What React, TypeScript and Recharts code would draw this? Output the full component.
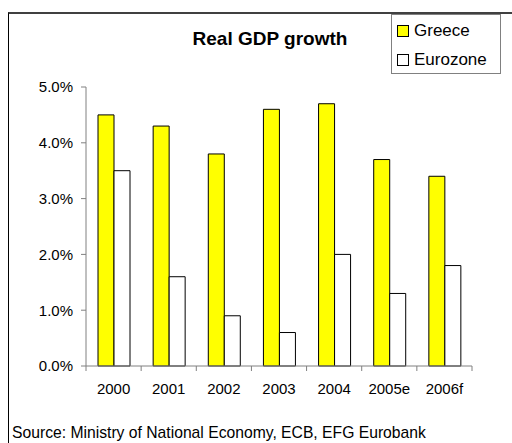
import { BarChart, Bar, XAxis, YAxis } from "recharts";

const years = ["2000", "2001", "2002", "2003", "2004", "2005e", "2006f"];
const greece = [4.5, 4.3, 3.8, 4.6, 4.7, 3.7, 3.4];
const eurozone = [3.5, 1.6, 0.9, 0.6, 2.0, 1.3, 1.8];
const yTicks = [0, 1, 2, 3, 4, 5];
const legendItems = [
    { label: "Greece", color: "#FFFF00" },
    { label: "Eurozone", color: "#FFFFFF" },
];

const data = years.map((year, i) => ({
    year,
    greece: greece[i],
    eurozone: eurozone[i],
}));

const FONT = "'Liberation Sans', Arial, sans-serif";
const AXIS = "#808080";
const HALF_BAND = (472 - 86) / years.length / 2;

const YearTick = (props: any) => {
    const { x, y, payload, index } = props;
    const half = payload && payload.offset ? payload.offset : HALF_BAND;
    return (
        <g>
            <line x1={x - half} x2={x - half} y1={y} y2={y + 5} stroke={AXIS} />
            {index === years.length - 1 && (
                <line x1={x + half} x2={x + half} y1={y} y2={y + 5} stroke={AXIS} />
            )}
            <text x={x} y={y + 28} textAnchor="middle" fontSize={15} fontFamily={FONT} fill="#000">
                {payload.value}
            </text>
        </g>
    );
};

const LegendBox = () => (
    <div
        style={{
            position: "absolute",
            left: 391,
            top: 14,
            width: 110,
            height: 60,
            border: "1px solid #808080",
            background: "#fff",
            fontFamily: FONT,
            fontSize: 17,
            boxSizing: "border-box",
            padding: "3px 0 0 5px",
        }}
    >
        {legendItems.map((item) => (
            <div key={item.label} style={{ display: "flex", alignItems: "center", height: 26, marginBottom: 3 }}>
                <span
                    style={{
                        width: 10,
                        height: 10,
                        border: "1px solid #000",
                        background: item.color,
                        marginRight: 5,
                        display: "inline-block",
                    }}
                />
                <span>{item.label}</span>
            </div>
        ))}
    </div>
);

export default function App() {
    return (
        <div style={{ position: "absolute", left: 0, top: 0, width: 512, height: 443, overflow: "hidden", background: "#fff" }}>
            <div
                style={{
                    position: "absolute",
                    left: 8,
                    top: 12,
                    width: 520,
                    height: 450,
                    borderTop: "2px solid #404040",
                    borderLeft: "1px solid #000",
                }}
            />
            <div
                style={{
                    position: "absolute",
                    left: 170,
                    width: 200,
                    top: 28,
                    textAlign: "center",
                    fontFamily: FONT,
                    fontWeight: "bold",
                    fontSize: 19,
                }}
            >
                Real GDP growth
            </div>
            <BarChart
                width={512}
                height={443}
                data={data}
                barSize={16}
                barGap={0}
                margin={{ top: 87, right: 40, bottom: 47, left: 0 }}
                style={{ position: "absolute", left: 0, top: 0 }}
            >
                <XAxis
                    dataKey="year"
                    stroke={AXIS}
                    tickLine={false}
                    tickSize={0}
                    tickMargin={0}
                    tick={<YearTick />}
                    interval={0}
                    height={30}
                />
                <YAxis
                    width={86}
                    domain={[0, 5]}
                    ticks={yTicks}
                    stroke={AXIS}
                    tickSize={5}
                    tickMargin={8}
                    tickFormatter={(v: number) => `${v.toFixed(1)}%`}
                    tick={{ fill: "#000", fontSize: 15, fontFamily: FONT }}
                    interval={0}
                />
                <Bar dataKey="greece" name="Greece" fill="#FFFF00" stroke="#000" strokeWidth={1} isAnimationActive={false} />
                <Bar dataKey="eurozone" name="Eurozone" fill="#FFFFFF" stroke="#000" strokeWidth={1} isAnimationActive={false} />
            </BarChart>
            <LegendBox />
            <div
                style={{
                    position: "absolute",
                    left: 12,
                    top: 424,
                    fontFamily: FONT,
                    fontSize: 15.7,
                    whiteSpace: "nowrap",
                }}
            >
                Source: Ministry of National Economy, ECB, EFG Eurobank
            </div>
        </div>
    );
}
